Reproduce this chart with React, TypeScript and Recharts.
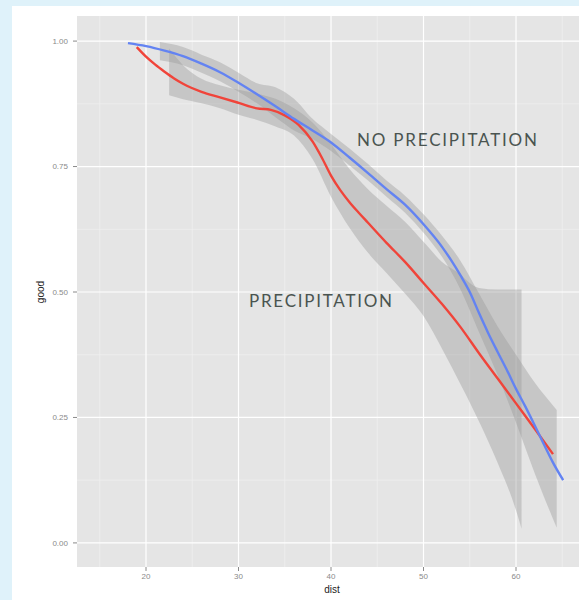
import React from 'react'
import { ComposedChart, Area, Line, XAxis, YAxis, CartesianGrid } from 'recharts'

// dist (x) vs good (y)
const redX = [19.0, 20, 21, 22, 23, 24, 26, 28, 30, 32, 33.5, 35, 36.5, 38, 39, 40, 41, 42, 43, 44, 46, 48, 50, 52, 54, 56, 58, 60, 62, 64]
const redY = [0.988, 0.969, 0.953, 0.939, 0.926, 0.915, 0.899, 0.888, 0.877, 0.866, 0.863, 0.852, 0.833, 0.8, 0.768, 0.732, 0.703, 0.679, 0.658, 0.638, 0.598, 0.56, 0.518, 0.476, 0.43, 0.378, 0.328, 0.278, 0.228, 0.177]

const blueX = [18.05, 20, 22, 24, 26, 28, 30, 32, 34, 36, 38, 40, 42, 44, 46, 48, 50, 52, 53, 54, 55, 56, 57, 58, 59, 60, 61, 62, 63, 64, 65.1]
const blueY = [0.996, 0.99, 0.981, 0.97, 0.955, 0.938, 0.917, 0.894, 0.87, 0.845, 0.822, 0.798, 0.768, 0.737, 0.705, 0.674, 0.635, 0.59, 0.563, 0.533, 0.5, 0.458, 0.418, 0.381, 0.345, 0.307, 0.272, 0.235, 0.197, 0.16, 0.125]

const redBandX = [22.5, 24, 26, 28, 30, 32, 34, 36, 38, 40, 42, 44, 46, 48, 50, 52, 54, 55, 56, 58, 60, 60.6]
const redBandLo = [0.892, 0.884, 0.876, 0.866, 0.853, 0.843, 0.83, 0.812, 0.765, 0.69, 0.628, 0.578, 0.538, 0.497, 0.452, 0.387, 0.316, 0.28, 0.242, 0.16, 0.065, 0.028]
const redBandHi = [0.985, 0.952, 0.925, 0.912, 0.903, 0.895, 0.885, 0.866, 0.838, 0.795, 0.745, 0.705, 0.672, 0.64, 0.6, 0.56, 0.535, 0.518, 0.508, 0.505, 0.505, 0.505]

const blueBandX = [21.5, 24, 26, 28, 30, 32, 34, 36, 38, 40, 42, 44, 46, 48, 50, 52, 54, 56, 58, 60, 62, 64.4]
const blueBandLo = [0.962, 0.952, 0.937, 0.92, 0.899, 0.876, 0.848, 0.822, 0.805, 0.781, 0.752, 0.722, 0.69, 0.658, 0.618, 0.57, 0.505, 0.42, 0.335, 0.24, 0.14, 0.03]
const blueBandHi = [0.998, 0.988, 0.973, 0.958, 0.937, 0.916, 0.908, 0.885, 0.845, 0.815, 0.786, 0.755, 0.722, 0.692, 0.655, 0.612, 0.562, 0.497, 0.432, 0.375, 0.32, 0.265]

const xTicks = [20, 30, 40, 50, 60]
const xMinor = [15, 25, 35, 45, 55, 65]
const yTicks = [0, 0.25, 0.5, 0.75, 1]
const yMinor = [0.125, 0.375, 0.625, 0.875]

const toLine = (xs: number[], ys: number[]) => xs.map((x, i) => ({ x, y: ys[i] }))
const toBand = (xs: number[], lo: number[], hi: number[]) =>
  xs.map((x, i) => ({ x, range: [lo[i], hi[i]] }))

const redLine = toLine(redX, redY)
const blueLine = toLine(blueX, blueY)
const redBand = toBand(redBandX, redBandLo, redBandHi)
const blueBand = toBand(blueBandX, blueBandLo, blueBandHi)

const tickStyle = { fontSize: 8, fill: '#8a8a8a', fontFamily: '"Liberation Sans", Arial, sans-serif' }
const noteStyle = { fontSize: 17, fill: '#4a5450', fontFamily: 'Lato, "Open Sans", sans-serif' }

export default function App() {
  return (
    <div style={{ position: 'absolute', left: 0, top: 0, width: 579, height: 600, background: '#dff2fa', overflow: 'hidden' }}>
      <div style={{ position: 'absolute', left: 12, top: 6, width: 567, height: 594, background: '#ffffff' }}>
        <ComposedChart width={567} height={594} margin={{ top: 10, right: 0, left: 0, bottom: 0 }}>
          <CartesianGrid
            fill="#e5e5e5"
            stroke="#f1f1f1"
            strokeWidth={0.6}
            verticalValues={xMinor}
            horizontalValues={yMinor}
          />
          <CartesianGrid stroke="#ffffff" strokeWidth={1.2} verticalValues={xTicks} horizontalValues={yTicks} />
          <XAxis
            dataKey="x"
            type="number"
            domain={[12.54, 66.81]}
            allowDataOverflow
            ticks={xTicks}
            height={33}
            axisLine={false}
            tickSize={4}
            tickMargin={2}
            tickLine={{ stroke: '#8a8a8a' }}
            tick={tickStyle}
          />
          <YAxis
            type="number"
            domain={[-0.048, 1.05]}
            allowDataOverflow
            ticks={yTicks}
            width={65}
            axisLine={false}
            tickSize={4}
            tickMargin={5}
            tickLine={{ stroke: '#8a8a8a' }}
            tick={tickStyle}
            tickFormatter={(v: number) => v.toFixed(2)}
          />
          <Area data={redBand} dataKey="range" type="monotone" stroke="none" fill="#999999" fillOpacity={0.4} isAnimationActive={false} />
          <Area data={blueBand} dataKey="range" type="monotone" stroke="none" fill="#999999" fillOpacity={0.4} isAnimationActive={false} />
          <Line data={redLine} dataKey="y" type="monotone" stroke="#f0443a" strokeWidth={2.4} dot={false} isAnimationActive={false} />
          <Line data={blueLine} dataKey="y" type="monotone" stroke="#6383f2" strokeWidth={2.4} dot={false} isAnimationActive={false} />
        </ComposedChart>
      </div>
      <svg width={579} height={600} style={{ position: 'absolute', left: 0, top: 0, pointerEvents: 'none' }}>
        <text x={357} y={139} dominantBaseline="central" textLength={180} lengthAdjust="spacing" style={noteStyle}>
          NO PRECIPITATION
        </text>
        <text x={249} y={300} dominantBaseline="central" textLength={143} lengthAdjust="spacing" style={noteStyle}>
          PRECIPITATION
        </text>
        <text x={332} y={589} textAnchor="middle" dominantBaseline="central" style={{ fontSize: 10, fill: '#222', fontFamily: '"Liberation Sans", Arial, sans-serif' }}>
          dist
        </text>
        <text
          x={40}
          y={292}
          textAnchor="middle"
          dominantBaseline="central"
          transform="rotate(-90 40 292)"
          style={{ fontSize: 10, fill: '#222', fontFamily: '"Liberation Sans", Arial, sans-serif' }}
        >
          good
        </text>
      </svg>
    </div>
  )
}
